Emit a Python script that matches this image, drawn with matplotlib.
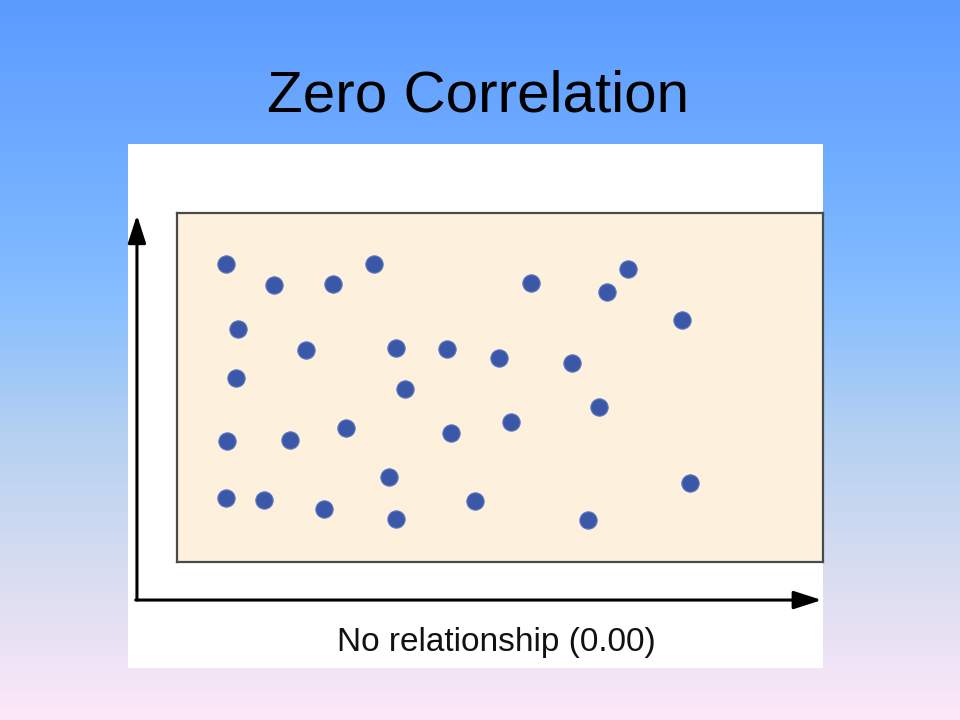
import numpy as np
import matplotlib.pyplot as plt
from matplotlib.colors import LinearSegmentedColormap

plt.rcParams['font.family'] = ['Liberation Sans', 'DejaVu Sans']

# scatter values (beige box spans 0..10 on both axes)
x_vals = [0.76, 1.50, 2.41, 3.05, 5.48, 6.66, 6.98, 7.82,
          0.94, 2.00, 3.39, 4.18, 4.98, 6.11,
          0.91, 3.53, 6.53,
          0.77, 1.75, 2.62, 4.24, 5.17,
          3.28,
          0.76, 1.35, 2.28, 3.39, 4.61, 6.36, 7.94]
y_vals = [8.54, 7.94, 7.97, 8.54, 7.99, 7.74, 8.40, 6.93,
          6.68, 6.07, 6.13, 6.10, 5.85, 5.70,
          5.27, 4.96, 4.44,
          3.47, 3.50, 3.84, 3.70, 4.01,
          2.44,
          1.83, 1.78, 1.52, 1.23, 1.75, 1.20, 2.26]

title = 'Zero Correlation'
xlabel = 'No relationship (0.00)'

fig = plt.figure(figsize=(9.6, 7.2), dpi=100)

# slide background gradient
bg = fig.add_axes([0, 0, 1, 1])
grad_cmap = LinearSegmentedColormap.from_list(
    'slide', [(0.0, '#5b9bff'), (0.3, '#78b3ff'), (0.42, '#88bfff'),
              (0.6, '#b4d0f2'), (0.78, '#d6dcf0'), (1.0, '#fce8f8')])
bg.imshow(np.linspace(0, 1, 256).reshape(-1, 1), aspect='auto',
          cmap=grad_cmap, extent=[0, 1, 0, 1])
bg.axis('off')

# white panel behind the chart
panel = fig.add_axes([128/960, 52/720, 695/960, 524/720])
panel.set_facecolor('white')
panel.set_xticks([])
panel.set_yticks([])
for s in panel.spines.values():
    s.set_visible(False)

# main plotting box
ax = fig.add_axes([177/960, 158/720, 646/960, 349/720])
ax.set_facecolor('#fdf1de')
ax.set_xlim(0, 10)
ax.set_ylim(0, 10)
ax.set_xticks([])
ax.set_yticks([])
for s in ax.spines.values():
    s.set_color('#4a4a4a')
    s.set_linewidth(1.6)

ax.scatter(x_vals, y_vals, s=155, color='#3a57a8', edgecolor='#5c78c0',
           linewidth=0.8, zorder=3)

# axis arrows
arrow_kw = dict(arrowstyle='-|>,head_length=1.7,head_width=0.55',
                color='black', lw=2.2, shrinkA=0, shrinkB=0)
ax.annotate('', xy=(-0.62, 9.94), xytext=(-0.62, -1.09),
            arrowprops=arrow_kw, annotation_clip=False)
ax.annotate('', xy=(9.98, -1.09), xytext=(-0.64, -1.09),
            arrowprops=arrow_kw, annotation_clip=False)

fig.text(0.498, 1 - 112/720, title, ha='center', va='baseline',
         fontsize=42, color='black')
fig.text(496/960, 1 - 651/720, xlabel, ha='center', va='baseline',
         fontsize=24, color='#111111')

fig.savefig('out.png', dpi=100)
